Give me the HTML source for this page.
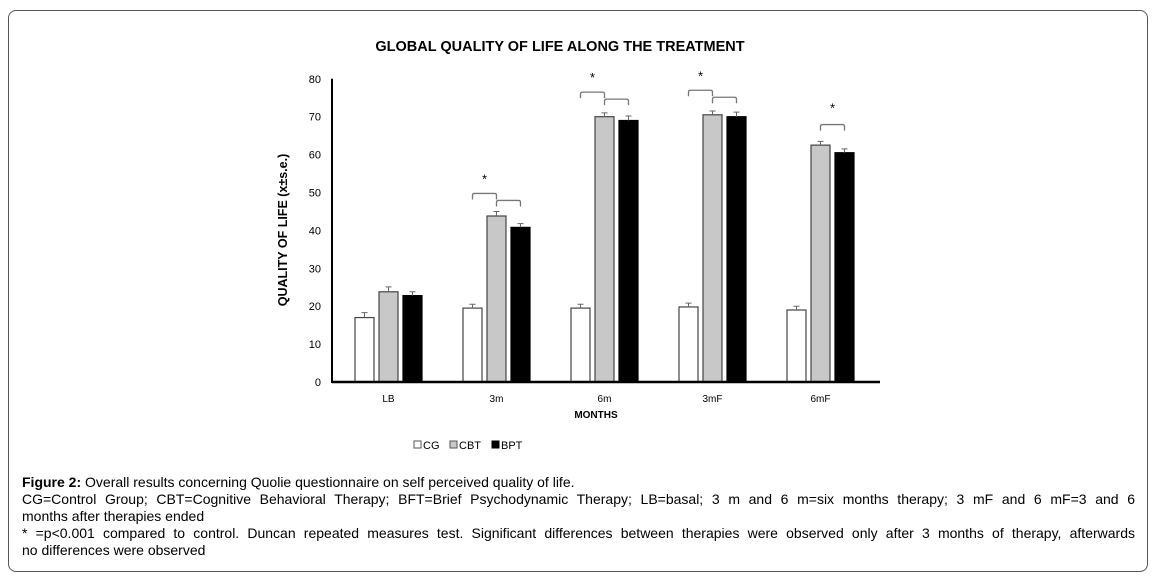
<!DOCTYPE html>
<html><head><meta charset="utf-8"><style>
body{margin:0;width:1156px;height:578px;background:#fff;font-family:"Liberation Sans",Arial,sans-serif;overflow:hidden}
#frame{position:absolute;left:8px;top:10px;width:1138px;height:560px;border:1px solid #555;border-radius:8px}
.cap{position:absolute;left:22px;font-size:14px;color:#000;line-height:17px;width:1113px;white-space:nowrap}
.j{text-align:justify;text-align-last:justify}
</style></head><body>
<div id="frame"></div>
<svg id="chart" width="1156" height="470" style="position:absolute;left:0;top:0">
<text x="560" y="51" text-anchor="middle" font-size="14.5" font-weight="bold" font-family="Liberation Sans,sans-serif">GLOBAL QUALITY OF LIFE ALONG THE TREATMENT</text>
<text transform="translate(287,230) rotate(-90)" text-anchor="middle" font-size="12.5" font-weight="bold">QUALITY OF LIFE (x±s.e.)</text>
<text x="596" y="418" text-anchor="middle" font-size="10" font-weight="bold">MONTHS</text>
<g id="plot"></g>
<g font-size="11">
<rect x="414" y="441" width="7" height="7" fill="#fff" stroke="#555"/><text x="423" y="449">CG</text>
<rect x="450" y="441" width="7" height="7" fill="#c8c8c8" stroke="#555"/><text x="459" y="449">CBT</text>
<rect x="492" y="441" width="7" height="7" fill="#000" stroke="#000"/><text x="501" y="449">BPT</text>
</g>
</svg>
<div class="cap" style="top:474px"><b>Figure 2:</b> Overall results concerning Quolie questionnaire on self perceived quality of life.</div>
<div>
<div class="cap j" style="top:491px">CG=Control Group; CBT=Cognitive Behavioral Therapy; BFT=Brief Psychodynamic Therapy; LB=basal; 3 m and 6 m=six months therapy; 3 mF and 6 mF=3 and 6</div>
<div class="cap" style="top:508px">months after therapies ended</div></div>
<div>
<div class="cap j" style="top:525px">* =p&lt;0.001 compared to control. Duncan repeated measures test. Significant differences between therapies were observed only after 3 months of therapy, afterwards</div>
<div class="cap" style="top:542px">no differences were observed</div></div>
<script>
const categories=["LB","3m","6m","3mF","6mF"];
const cg=[17,19.5,19.5,19.8,19];
const cbt=[23.8,43.8,70,70.5,62.5];
const bpt=[22.8,40.8,69,70,60.5];
const errCg=[1.3,1,1,1,1];
const errCbt=[1.3,1.2,1,1,1];
const errBpt=[1,1,1.2,1.2,1];
const yTicks=[0,10,20,30,40,50,60,70,80];
const NS="http://www.w3.org/2000/svg";
const g=document.getElementById('plot');
const Y=v=>382-v*37.9/10;
const X=(i,s)=>355+i*108+s*24;
function mk(t,a){const e=document.createElementNS(NS,t);for(const k in a)e.setAttribute(k,a[k]);g.appendChild(e);return e;}
yTicks.forEach(v=>{const t=mk('text',{x:321,y:Y(v)+4,'text-anchor':'end','font-size':11});t.textContent=v;

});
const series=[[cg,errCg,'#fff','#444'],[cbt,errCbt,'#c8c8c8','#444'],[bpt,errBpt,'#000','#000']];
categories.forEach((c,i)=>{
 series.forEach((s,k)=>{const v=s[0][i],x=X(i,k);
  const r=mk('rect',{x:x,y:Y(v),width:19,height:Y(0)-Y(v),fill:s[2],stroke:s[3],'stroke-width':1.2});
  
  
  const e=s[1][i],cx=x+9.5;
  mk('path',{d:`M${cx} ${Y(v)}V${Y(v+e)}M${cx-3} ${Y(v+e)}H${cx+3}`,stroke:'#666','stroke-width':1,fill:'none'});
 });
 const t=mk('text',{x:X(i,1)+9.5,y:402,'text-anchor':'middle','font-size':10});t.textContent=c;
 
 
});
function br(x1,x2,y){mk('path',{d:`M${x1} ${y+6}V${y+2}Q${x1} ${y} ${x1+2} ${y}H${x2-2}Q${x2} ${y} ${x2} ${y+2}V${y+6}`,stroke:'#777','stroke-width':1.3,fill:'none'});}
function star(x,y){const t=mk('text',{x:x,y:y,'text-anchor':'middle','font-size':13});t.textContent='*';

}
[1,2,3].forEach(i=>{const top=Math.max(cbt[i],bpt[i])+1.2;const y1=Y(top)-(i==1?18:20),y2=y1+7;
 br(X(i,0)+9.5,X(i,1)+9.5,y1);br(X(i,1)+9.5,X(i,2)+9.5,y2);star((X(i,0)+X(i,1))/2+9.5,y1-10);});
{const i=4,y=Y(cbt[i]+1.2)-16;br(X(i,1)+9.5,X(i,2)+9.5,y);star((X(i,1)+X(i,2))/2+9.5,y-12);}
mk('line',{x1:332,y1:Y(0),x2:880,y2:Y(0),stroke:'#000','stroke-width':2.5});
mk('line',{x1:332,y1:Y(80),x2:332,y2:Y(0)+1,stroke:'#000','stroke-width':2});
</script>
</body></html>
